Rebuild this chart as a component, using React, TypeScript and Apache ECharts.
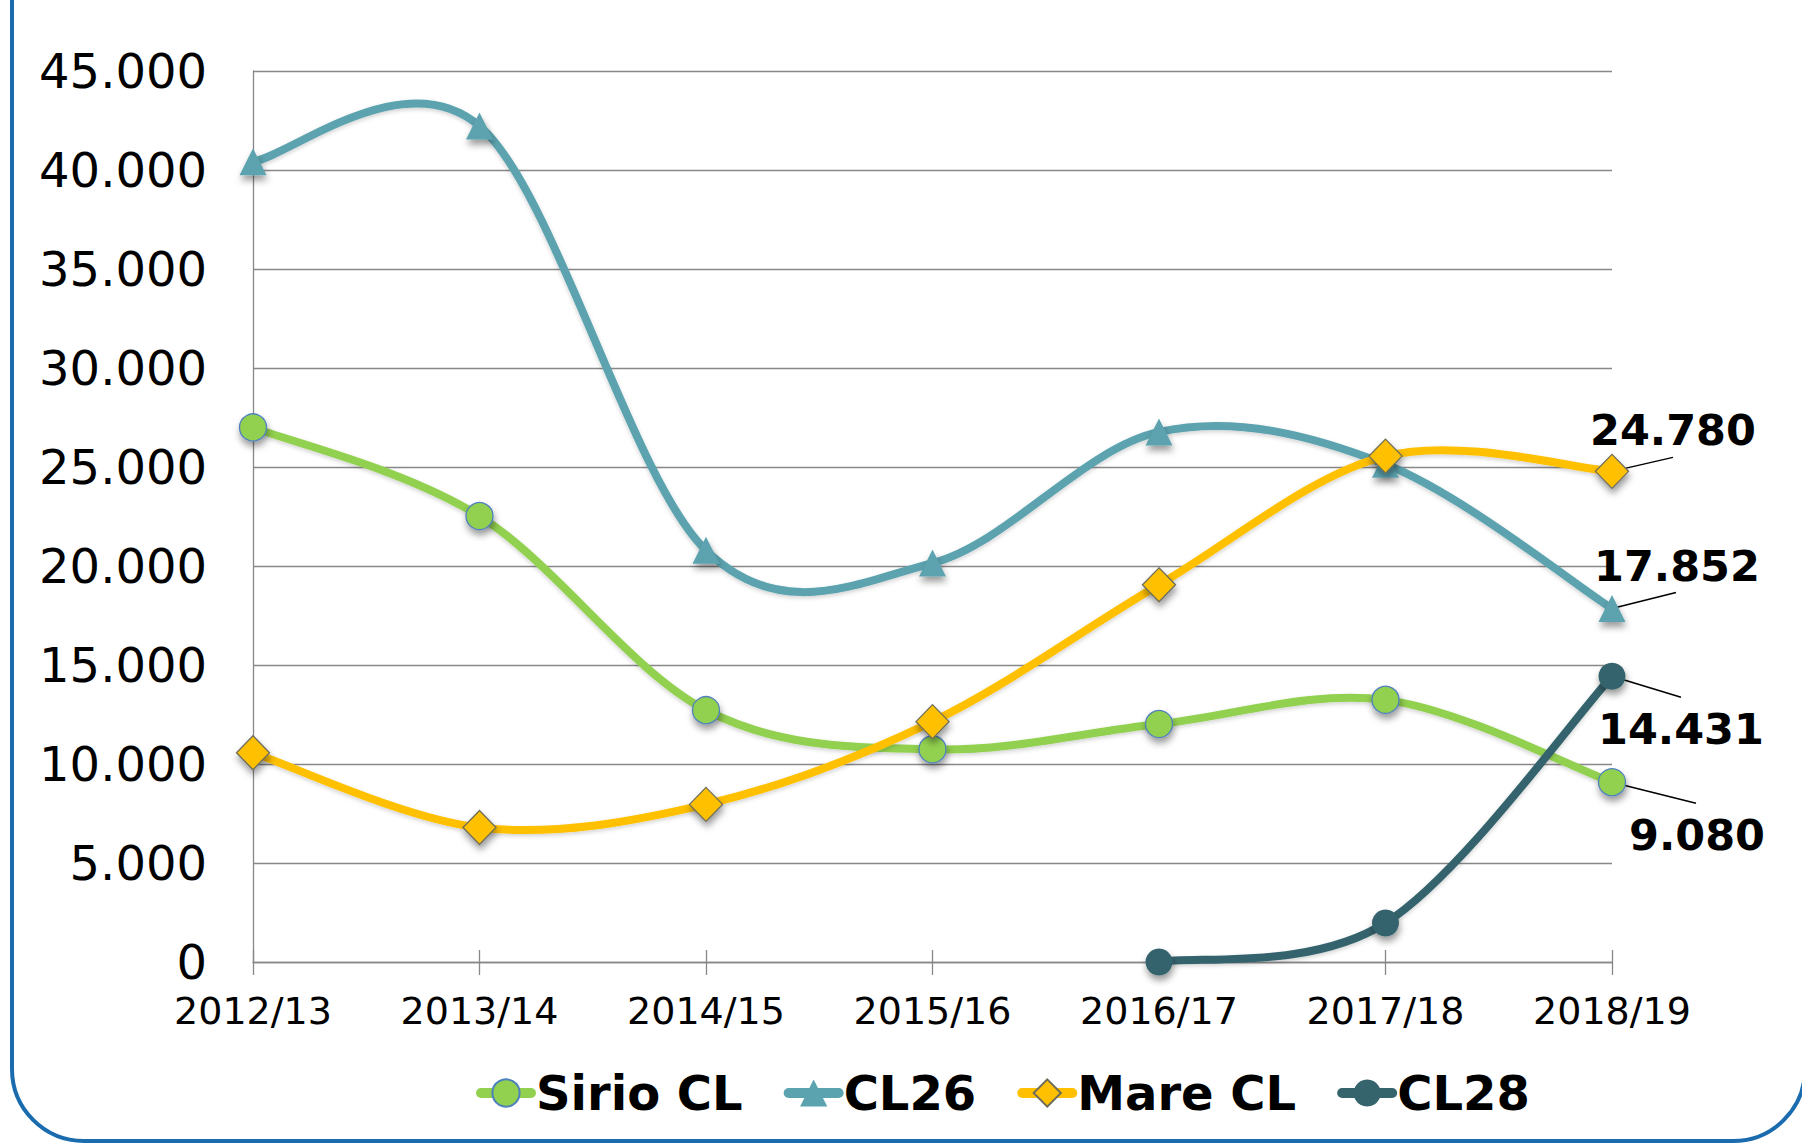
import React, { useEffect, useRef } from "react";
import * as echarts from "echarts";

const categories = ["2012/13", "2013/14", "2014/15", "2015/16", "2016/17", "2017/18", "2018/19"];
const sirioCL = [27000, 22520, 12720, 10740, 12020, 13240, 9080];
const cl26 = [40420, 42220, 20790, 20150, 26770, 25140, 17852];
const mareCL = [10570, 6790, 7960, 12140, 19050, 25550, 24780];
const cl28: (number | null)[] = [null, null, null, null, 0, 1970, 14431];
const yTicks = { min: 0, max: 45000, interval: 5000 };

const FONT = "DejaVu Sans";

const fmt = (v: number) => String(Math.round(v)).replace(/\B(?=(\d{3})+(?!\d))/g, ".");

function withLastLabel(values: (number | null)[]) {
  return values.map((v, i) =>
    i === values.length - 1 ? { value: v, label: { show: true } } : v
  );
}

// Excel-like smoothed curve: Catmull-Rom style Bezier segments (tension 1/6)
function curveSeries(
  name: string,
  values: (number | null)[],
  color: string,
  lineWidth: number,
  leader: [number, number]
) {
  const segs: number[][] = [];
  for (let i = 0; i < values.length - 1; i++) {
    if (values[i] != null && values[i + 1] != null) segs.push([i, values[i] as number]);
  }
  const last = values.length - 1;
  return {
    name,
    type: "custom",
    z: 2,
    silent: true,
    legendHoverLink: false,
    data: segs,
    encode: { x: 0, y: 1 },
    renderItem: (params: any, api: any) => {
      const i = api.value(0);
      const pt = (j: number) => {
        const k = Math.max(0, Math.min(values.length - 1, j));
        const v = values[k];
        if (v == null) return null;
        return api.coord([k, v]);
      };
      const p1 = pt(i);
      const p2 = pt(i + 1);
      const p0 = pt(i - 1) || p1;
      const p3 = pt(i + 2) || p2;
      const s = 1 / 6;
      const children: any[] = [
        {
          type: "bezierCurve",
          shape: {
            x1: p1[0],
            y1: p1[1],
            cpx1: p1[0] + (p2[0] - p0[0]) * s,
            cpy1: p1[1] + (p2[1] - p0[1]) * s,
            cpx2: p2[0] - (p3[0] - p1[0]) * s,
            cpy2: p2[1] - (p3[1] - p1[1]) * s,
            x2: p2[0],
            y2: p2[1],
          },
          style: {
            fill: "none",
            stroke: color,
            lineWidth,
            lineCap: "round",
            shadowBlur: 4,
            shadowOffsetY: 2,
            shadowColor: "rgba(0,0,0,0.18)",
          },
        },
      ];
      if (i + 1 === last) {
        children.push({
          type: "line",
          z2: 10,
          shape: { x1: p2[0], y1: p2[1], x2: p2[0] + leader[0], y2: p2[1] + leader[1] },
          style: { stroke: "#000", lineWidth: 1.5 },
        });
      }
      return { type: "group", children };
    },
  };
}

export default function App() {
  const ref = useRef<HTMLDivElement>(null);

  useEffect(() => {
    if (!ref.current) return;
    const chart = echarts.init(ref.current, null, { renderer: "svg" });

    const shadow = {
      shadowBlur: 7,
      shadowOffsetX: 1,
      shadowOffsetY: 5,
      shadowColor: "rgba(0,0,0,0.4)",
    };

    const markerSeries = (
      name: string,
      data: (number | null)[],
      color: string,
      symbol: string,
      symbolSize: number | number[],
      border: string | null,
      off: [number, number]
    ) => ({
      name,
      type: "line",
      z: 3,
      data: withLastLabel(data),
      symbol,
      symbolSize,
      showAllSymbol: true,
      lineStyle: { color, width: 8, opacity: 0 },
      itemStyle: {
        color,
        borderColor: border || color,
        borderWidth: border ? 1.3 : 0,
        ...shadow,
      },
      label: {
        show: false,
        position: "inside",
        offset: off,
        formatter: (p: any) => fmt(p.value),
        fontFamily: FONT,
        fontWeight: "bold",
        fontSize: 43,
        color: "#000",
      },
      emphasis: { disabled: true },
    });

    const legendItem = (name: string, color: string) => ({
      name,
      lineStyle: { color, width: 10, opacity: 1, cap: "round" },
    });

    chart.setOption({
      animation: false,
      backgroundColor: "#fff",
      grid: { left: 253, right: 190, top: 71, bottom: 182, containLabel: false },
      graphic: [
        {
          type: "rect",
          shape: { x: 12, y: -100, width: 1793, height: 1241, r: 72 },
          style: { fill: "none", stroke: "#1a6cae", lineWidth: 4 },
          z: 0,
          silent: true,
        },
      ],
      legend: {
        left: 476,
        top: 1069,
        padding: 0,
        itemWidth: 50,
        itemHeight: 34,
        itemGap: 41,
        textStyle: { fontFamily: FONT, fontWeight: "bold", fontSize: 48, color: "#000" },
        data: [
          legendItem("Sirio CL", "#92d050"),
          legendItem("CL26", "#5ba3af"),
          legendItem("Mare CL", "#ffc000"),
          legendItem("CL28", "#35646d"),
        ],
      },
      xAxis: [
        {
          type: "category",
          data: categories,
          boundaryGap: false,
          axisLine: { show: true, lineStyle: { color: "#888", width: 1.3 } },
          axisTick: { show: true, length: 13, lineStyle: { color: "#888", width: 1.3 } },
          axisLabel: { fontFamily: FONT, fontSize: 38, color: "#000", margin: 30 },
          splitLine: { show: false },
        },
        {
          type: "category",
          data: categories,
          boundaryGap: false,
          position: "bottom",
          axisLine: { show: false },
          axisTick: { show: true, inside: true, length: 12, lineStyle: { color: "#888", width: 1.3 } },
          axisLabel: { show: false },
          splitLine: { show: false },
        },
      ],
      yAxis: {
        type: "value",
        min: yTicks.min,
        max: yTicks.max,
        interval: yTicks.interval,
        axisLine: { show: true, lineStyle: { color: "#888", width: 1.3 } },
        axisTick: { show: false },
        axisLabel: {
          fontFamily: FONT,
          fontSize: 48,
          color: "#000",
          margin: 46,
          formatter: (v: number) => fmt(v),
        },
        splitLine: { show: true, lineStyle: { color: "#888", width: 1.3 } },
      },
      series: [
        markerSeries("Sirio CL", sirioCL, "#92d050", "circle", 27, "#4f81bd", [85, 53]),
        markerSeries("CL26", cl26, "#5ba3af", "triangle", 27, null, [65, -43]),
        markerSeries("Mare CL", mareCL, "#ffc000", "diamond", [33, 34], "#6d6d5a", [61, -41]),
        markerSeries("CL28", cl28, "#35646d", "circle", 27, null, [69, 53]),
        curveSeries("Sirio CL", sirioCL, "#92d050", 8, [84, 21]),
        curveSeries("CL26", cl26, "#5ba3af", 8, [64, -16]),
        curveSeries("Mare CL", mareCL, "#ffc000", 8, [61, -14]),
        curveSeries("CL28", cl28, "#35646d", 8, [69, 21]),
      ],
    });

    return () => chart.dispose();
  }, []);

  return (
    <div
      ref={ref}
      style={{ position: "absolute", left: 0, top: 0, width: 1802, height: 1144 }}
    />
  );
}
